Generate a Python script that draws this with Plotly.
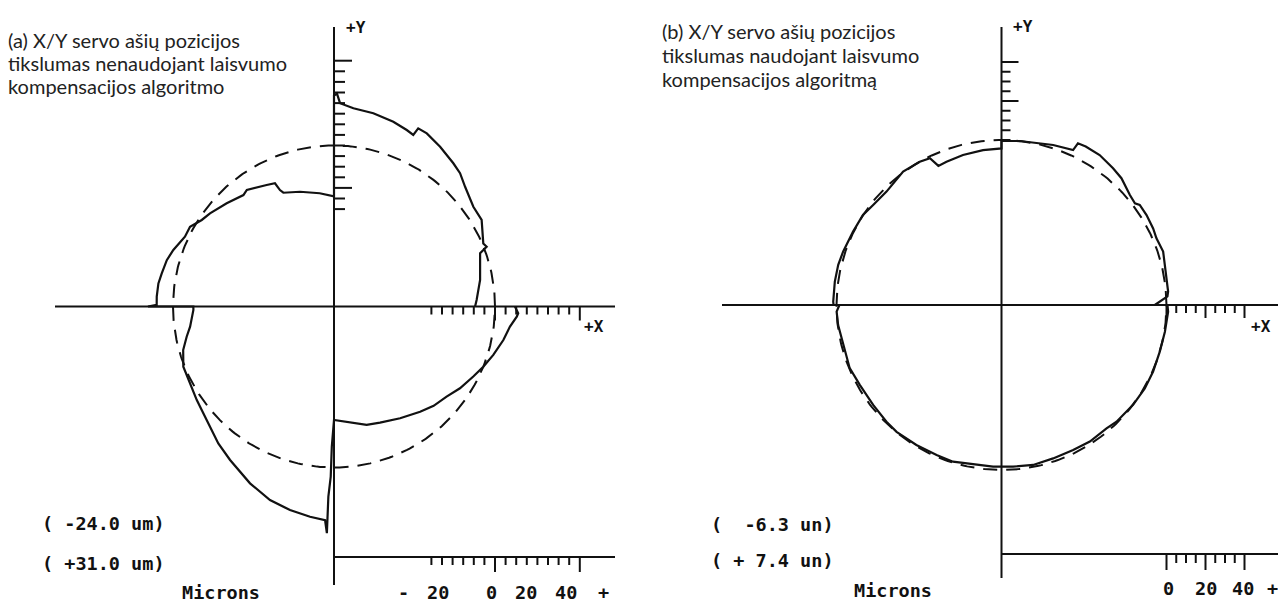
import numpy as np
import plotly.graph_objects as go

W, H = 1278, 603

# ---------------- data ----------------
# Circular interpolation test, radial error (µm) vs. angle (deg, counter-clockwise from +X)
# (a) without backlash compensation
A_ANGLE = [0, 2.6, 10.3, 20.0, 21.4, 22.9, 30.4, 35.6, 42.4, 46.6, 50.2, 56.4, 61.8, 64.7,
           65.2, 67.6, 72.2, 78.5, 84.4, 88.3, 89.2, 90,
           90, 97.2, 106.5, 114.0, 114.9, 115.6, 119.0, 126.8, 129.1, 136.1, 143.1, 146.8,
           151.0, 154.9, 160.6, 164.5, 169.1, 172.5, 176.8, 179.5, 180,
           180, 181.4, 188.0, 191.6, 196.1, 201.8, 208.1, 214.3, 221.7, 229.8, 235.9, 244.6,
           251.7, 257.8, 263.5, 267.6, 268.2, 268.3, 268.9, 269.1, 270,
           279.4, 285.4, 291.6, 300.6, 309.3, 315.1, 321.3, 327.0, 333.3, 338.0, 343.1,
           348.8, 353.5, 356.8, 357.9, 360]
A_DEV = [-9.4, -8.6, -5.9, -2.6, 1.4, 0.5, 4.8, 4.9, 7.8, 10.6, 12.0, 14.5, 16.7, 17.0,
         13.2, 14.1, 15.6, 17.1, 18.0, 20.0, 24.5, 23.5,
         -24.0, -22.1, -19.5, -17.2, -15.4, -11.5, -10.4, -7.3, -8.2, -5.7, -2.8, -1.4,
         1.7, 1.7, 4.4, 5.9, 6.8, 7.6, 7.8, 7.7, 11.8,
         -9.6, -9.6, -7.4, -5.0, -1.9, 0.6, 1.0, 2.4, 4.5, 8.6, 11.5, 16.4,
         20.2, 22.3, 23.9, 24.9, 31.0, 13.8, 4.3, -9.8, -22.4,
         -20.4, -18.0, -17.0, -14.7, -11.8, -9.6, -7.9, -5.1, -2.4, 0.0, 2.6,
         5.5, 7.6, 10.4, 11.0, 9.4]

# (b) with backlash compensation
B_ANGLE = [0, 3.0, 4.6, 9.2, 13.8, 18.3, 23.3, 26.8, 31.8, 35.9, 37.3, 40.6, 46.6, 50.8,
           56.8, 62.0, 64.7, 65.2, 72.1, 83.6, 90,
           90, 96.8, 104.4, 111.0, 114.4, 116.0, 119.7, 126.4, 135.4, 142.1, 147.0, 153.7,
           161.4, 166.2, 172.0, 178.9, 180,
           180, 182.3, 187.0, 191.8, 196.6, 202.6, 209.4, 217.9, 225.4, 230.4, 238.7, 246.6,
           252.8, 261.1, 267.0, 270,
           274.1, 281.2, 288.6, 296.3, 302.9, 310.4, 314.6, 322.8, 329.8, 336.3, 343.6,
           350.7, 357.7, 360]
B_DEV = [-6.0, 0.6, 1.1, 1.1, 1.6, 2.7, 1.9, 2.5, 2.9, 2.9, 1.4, 2.1, 4.9, 5.9,
         7.3, 7.4, 7.1, 2.9, 1.6, 0.0, -0.5,
         -4.3, -4.6, -5.2, -5.9, -6.3, -0.9, 0.0, 0.4, -1.8, -1.2, 0.1, 0.3,
         1.1, 1.6, 1.7, 1.7, 1.5,
         -1.5, 0.0, -0.2, -0.8, -0.8, -0.3, -1.2, -1.2, -0.6, -0.2, -0.6, -0.8,
         -0.5, -1.6, -1.6, -1.7,
         -1.5, -1.0, -1.6, -1.7, -1.2, -1.5, -0.6, 0.1, 0.4, 0.3, 0.0,
         0.3, 0.9, 0.5]

A_LIMITS = ["( -24.0 um)", "( +31.0 um)"]
B_LIMITS = ["(  -6.3 un)", "( + 7.4 un)"]

A_SCALE_TICKS = list(range(-30, 45, 5))
B_SCALE_TICKS = list(range(0, 45, 5))
A_SCALE_LABELS = ["-", "20", "0", "20", "40", "+"]
B_SCALE_LABELS = ["0", "20", "40", "+"]

A_TITLE = ["(a) X/Y servo ašių pozicijos",
           "tikslumas nenaudojant laisvumo",
           "kompensacijos algoritmo"]
B_TITLE = ["(b) X/Y servo ašių pozicijos",
           "tikslumas naudojant laisvumo",
           "kompensacijos algoritmą"]

# ---------------- panel geometry (pixels) ----------------
PANELS = [
    dict(ax="x", ay="y", ox=334.0, oy=306.5, r0=161.0, gain=2.12,
         hx=(-279, 281), vy=(279.5, -278.5), ruler_y=-250.5, ruler_x1=281,
         angle=A_ANGLE, dev=A_DEV, ticks=A_SCALE_TICKS,
         long_x={0, 40}, long_y={40, -20}, long_r={0, 40},
         ylen=(11, 18), xlen=(8, 14), rlen=(8, 15),
         limits=A_LIMITS, lim_pos=[(-292, -216.5), (-292, -256.5)],
         microns=(-152, -285.5),
         scale_labels=A_SCALE_LABELS, scale_x=[69, 104, 157, 192, 232, 269], scale_y=-285.5,
         plusy=(22, 279.5), plusx=(260, -19.5),
         title=A_TITLE, title_x=8, title_y=[40, 63, 86]),
    dict(ax="x2", ay="y2", ox=1001.5, oy=305.0, r0=165.0, gain=1.95,
         hx=(-279.5, 276.5), vy=(278, -273), ruler_y=-249, ruler_x1=276.5,
         angle=B_ANGLE, dev=B_DEV, ticks=B_SCALE_TICKS,
         long_x={0, 20, 40}, long_y={40, 20}, long_r={0, 20, 40},
         ylen=(9, 17), xlen=(8, 13), rlen=(9, 16),
         limits=B_LIMITS, lim_pos=[(-290.5, -219), (-290.5, -255)],
         microns=(-147.5, -285),
         scale_labels=B_SCALE_LABELS, scale_x=[166.5, 204.5, 241.5, 270.5], scale_y=-283,
         plusy=(21.5, 279), plusx=(259.5, -21),
         title=B_TITLE, title_x=662, title_y=[31, 55, 79]),
]

PRINT_FONT = dict(family="DejaVu Sans Mono", size=18.5, color="#111111")
LABEL_FONT = dict(family="DejaVu Sans Mono", size=16, color="#111111")
TITLE_FONT = dict(family="Lato", size=20, color="#222222")
INK = "#111111"

fig = go.Figure()
annotations = []


def seg_trace(xs, ys, ax, ay, width=2):
    return go.Scatter(x=xs, y=ys, mode="lines", xaxis=ax, yaxis=ay,
                      line=dict(color=INK, width=width), hoverinfo="skip",
                      showlegend=False)


for p in PANELS:
    ax, ay = p["ax"], p["ay"]
    r0, g = p["r0"], p["gain"]

    # axes cross and the micron ruler at the bottom
    xs = [p["hx"][0], p["hx"][1], None, 0, 0, None, 0, p["ruler_x1"]]
    ys = [0, 0, None, p["vy"][0], p["vy"][1], None, p["ruler_y"], p["ruler_y"]]
    fig.add_trace(seg_trace(xs, ys, ax, ay, width=2))

    # tick marks on +X, +Y and the ruler, placed on the µm scale
    tx, ty = [], []
    for v in p["ticks"]:
        pos = r0 + g * v
        lx = p["xlen"][1] if v in p["long_x"] else p["xlen"][0]
        ly = p["ylen"][1] if v in p["long_y"] else p["ylen"][0]
        lr = p["rlen"][1] if v in p["long_r"] else p["rlen"][0]
        tx += [pos, pos, None, 0, ly, None, pos, pos, None]
        ty += [0, -lx, None, pos, pos, None, p["ruler_y"], p["ruler_y"] - lr, None]
    fig.add_trace(seg_trace(tx, ty, ax, ay, width=2))

    # nominal circle (dashed)
    th = np.radians(np.linspace(0, 360, 361))
    fig.add_trace(go.Scatter(x=r0 * np.cos(th), y=r0 * np.sin(th), mode="lines",
                             xaxis=ax, yaxis=ay, hoverinfo="skip", showlegend=False,
                             line=dict(color=INK, width=2, dash="14px,9px")))

    # measured path: nominal radius plus magnified radial error
    ang = np.radians(np.array(p["angle"], dtype=float))
    rad = r0 + g * np.array(p["dev"], dtype=float)
    fig.add_trace(go.Scatter(x=rad * np.cos(ang), y=rad * np.sin(ang), mode="lines",
                             xaxis=ax, yaxis=ay, hoverinfo="skip", showlegend=False,
                             line=dict(color=INK, width=2.2)))

    base = dict(xref=ax, yref=ay, showarrow=False, borderpad=0, borderwidth=0)
    for txt, (lx, ly) in zip(p["limits"], p["lim_pos"]):
        annotations.append(dict(base, x=lx, y=ly, text="<b>" + txt.replace(" ", "&nbsp;") + "</b>",
                                xanchor="left", yanchor="middle", font=PRINT_FONT))
    annotations.append(dict(base, x=p["microns"][0], y=p["microns"][1], text="<b>Microns</b>",
                            xanchor="left", yanchor="middle", font=PRINT_FONT))
    for lab, lx in zip(p["scale_labels"], p["scale_x"]):
        annotations.append(dict(base, x=lx, y=p["scale_y"], text=f"<b>{lab}</b>",
                                xanchor="center", yanchor="middle", font=PRINT_FONT))
    annotations.append(dict(base, x=p["plusy"][0], y=p["plusy"][1], text="<b>+Y</b>",
                            xanchor="center", yanchor="middle", font=LABEL_FONT))
    annotations.append(dict(base, x=p["plusx"][0], y=p["plusx"][1], text="<b>+X</b>",
                            xanchor="center", yanchor="middle", font=LABEL_FONT))

    for line, yy in zip(p["title"], p["title_y"]):
        annotations.append(dict(xref="paper", yref="paper", x=p["title_x"] / W,
                                y=1 - yy / H, text=line, showarrow=False,
                                xanchor="left", yanchor="middle", font=TITLE_FONT,
                                borderpad=0, borderwidth=0))

layout_axes = {}
for p in PANELS:
    xk = "xaxis" if p["ax"] == "x" else "xaxis2"
    yk = "yaxis" if p["ay"] == "y" else "yaxis2"
    layout_axes[xk] = dict(domain=[0, 1], range=[-p["ox"], W - p["ox"]], visible=False,
                           fixedrange=True, anchor=p["ay"])
    layout_axes[yk] = dict(domain=[0, 1], range=[-(H - p["oy"]), p["oy"]], visible=False,
                           fixedrange=True, anchor=p["ax"])
layout_axes["xaxis2"]["overlaying"] = "x"
layout_axes["yaxis2"]["overlaying"] = "y"

fig.update_layout(width=W, height=H, margin=dict(l=0, r=0, t=0, b=0),
                  paper_bgcolor="white", plot_bgcolor="white",
                  annotations=annotations, showlegend=False, **layout_axes)

fig.write_html("out.html", config={"displayModeBar": False})
